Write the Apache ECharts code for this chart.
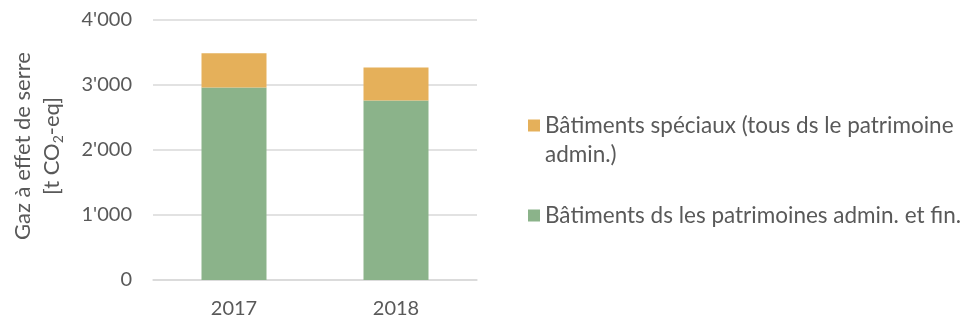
<!DOCTYPE html>
<html>
<head>
<meta charset="utf-8">
<script src="https://cdn.jsdelivr.net/npm/echarts@6/dist/echarts.min.js"></script>
<style>
  html, body { margin: 0; padding: 0; background: #fff; }
  #chart { width: 963px; height: 322px; }
</style>
</head>
<body>
<div id="chart"></div>
<script>
// Greenhouse gas emissions of municipal buildings, in t CO2-eq
const years = ['2017', '2018'];
const batimentsPatrimoines = [2960, 2760];
const batimentsSpeciaux = [530, 510];
const yTicks = [0, 1000, 2000, 3000, 4000];

const nameSpeciaux = 'Bâtiments spéciaux (tous ds le patrimoine admin.)';
const namePatrimoines = 'Bâtiments ds les patrimoines admin. et fin.';

const textColor = '#595959';
const fontFamily = 'Lato, "Open Sans", sans-serif';
const legendFont = 22.5;
const legendLine = 29;

const chart = echarts.init(document.getElementById('chart'), null, { renderer: 'canvas' });

chart.setOption({
  animation: false,
  textStyle: { fontFamily: fontFamily, color: textColor },
  grid: { left: 153, right: 486, top: 20, bottom: 42, outerBoundsMode: 'none', containLabel: false },
  legend: [
    {
      // wrapped label: an empty leading line keeps the marker level with the first text line
      data: [nameSpeciaux],
      orient: 'vertical',
      left: 523,
      top: 80,
      itemWidth: 12,
      itemHeight: 12,
      icon: 'rect',
      formatter: () => '{e| }\n{t|Bâtiments spéciaux (tous ds le patrimoine}\n{t|admin.)}',
      textStyle: {
        rich: {
          e: { fontSize: legendFont, lineHeight: legendLine, color: textColor, fontFamily: fontFamily },
          t: { fontSize: legendFont, lineHeight: legendLine, color: textColor, fontFamily: fontFamily }
        }
      }
    },
    {
      data: [namePatrimoines],
      orient: 'vertical',
      left: 523,
      top: 196,
      itemWidth: 12,
      itemHeight: 12,
      icon: 'rect',
      textStyle: { fontSize: legendFont, color: textColor, lineHeight: legendLine, fontFamily: fontFamily }
    }
  ],
  xAxis: {
    type: 'category',
    data: years,
    axisTick: { show: false },
    axisLine: { lineStyle: { color: '#D9D9D9', width: 1.5 } },
    axisLabel: { fontSize: 20, color: textColor, margin: 19, fontFamily: fontFamily }
  },
  yAxis: {
    type: 'value',
    min: yTicks[0],
    max: yTicks[yTicks.length - 1],
    interval: 1000,
    axisLine: { show: false },
    axisTick: { show: false },
    splitLine: { lineStyle: { color: '#D9D9D9', width: 1.5 } },
    axisLabel: {
      fontSize: 20,
      color: textColor,
      margin: 21,
      fontFamily: fontFamily,
      formatter: v => String(v).replace(/\B(?=(\d{3})+(?!\d))/g, "'")
    },
    name: '{a|Gaz à effet de serre}\n{a|[t CO}{sub|2}{a|-eq]}',
    nameLocation: 'middle',
    nameGap: 87,
    nameRotate: 90,
    nameTextStyle: {
      align: 'center',
      padding: [0, 0, 0, 8],
      rich: {
        a: { fontSize: 22, color: textColor, lineHeight: 29, fontFamily: fontFamily },
        sub: { fontSize: 14, color: textColor, lineHeight: 29, padding: [14, 0, 0, 0], fontFamily: fontFamily }
      }
    }
  },
  series: [
    {
      name: namePatrimoines,
      type: 'bar',
      stack: 'total',
      barWidth: 65,
      data: batimentsPatrimoines,
      itemStyle: { color: '#8BB38A' }
    },
    {
      name: nameSpeciaux,
      type: 'bar',
      stack: 'total',
      barWidth: 65,
      data: batimentsSpeciaux,
      itemStyle: { color: '#E5B05A' }
    }
  ]
});
</script>
</body>
</html>
